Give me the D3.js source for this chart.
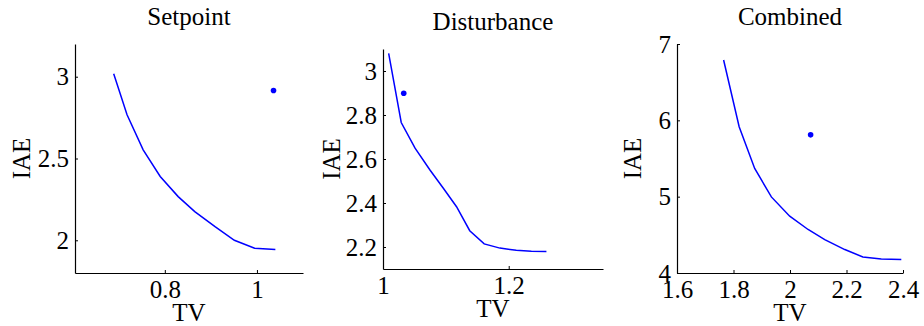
<!DOCTYPE html>
<html>
<head>
<meta charset="utf-8">
<script src="https://cdn.jsdelivr.net/npm/d3@7"></script>
<style>
body { margin: 0; background: #fff; }
text { font-family: "Liberation Serif", "Times New Roman", serif; fill: #000; }
</style>
</head>
<body>
<script>
// Setpoint panel
var setpointTV  = [0.689, 0.718, 0.753, 0.790, 0.829, 0.865, 0.909, 0.951, 0.995, 1.040];
var setpointIAE = [3.018, 2.767, 2.553, 2.390, 2.267, 2.175, 2.083, 2.000, 1.951, 1.943];
var setpointDot = [1.036, 2.916];
var setpointXTicks = [0.8, 1];
var setpointYTicks = [2, 2.5, 3];

// Disturbance panel
var disturbTV  = [1.009, 1.029, 1.051, 1.075, 1.096, 1.117, 1.138, 1.161, 1.186, 1.212, 1.236, 1.260];
var disturbIAE = [3.080, 2.766, 2.649, 2.549, 2.467, 2.383, 2.274, 2.214, 2.195, 2.185, 2.181, 2.180];
var disturbDot = [1.033, 2.899];
var disturbXTicks = [1, 1.2];
var disturbYTicks = [2.2, 2.4, 2.6, 2.8, 3];

// Combined panel
var combinedTV  = [1.765, 1.820, 1.875, 1.934, 1.999, 2.064, 2.123, 2.194, 2.258, 2.323, 2.394];
var combinedIAE = [6.79, 5.916, 5.37, 4.997, 4.744, 4.57, 4.438, 4.307, 4.21, 4.184, 4.176];
var combinedDot = [2.073, 5.81];
var combinedXTicks = [1.6, 1.8, 2, 2.2, 2.4];
var combinedYTicks = [4, 5, 6, 7];

var svg = d3.select('body').append('svg')
  .attr('width', 924)
  .attr('height', 326);

var fmt = function(d) { return String(+d.toFixed(2)); };

function panel(opt) {
  var x = d3.scaleLinear().domain(opt.xdom).range([opt.left, opt.right]);
  var y = d3.scaleLinear().domain(opt.ydom).range([opt.bottom, opt.top]);

  var gx = svg.append('g')
    .attr('transform', 'translate(0,' + opt.bottom + ')')
    .call(d3.axisBottom(x).tickValues(opt.xticks).tickFormat(fmt)
      .tickSizeInner(-3).tickSizeOuter(0).tickPadding(7));
  var gy = svg.append('g')
    .attr('transform', 'translate(' + opt.left + ',0)')
    .call(d3.axisLeft(y).tickValues(opt.yticks).tickFormat(fmt)
      .tickSizeInner(-3).tickSizeOuter(0).tickPadding(6));

  [gx, gy].forEach(function(g) {
    g.select('.domain').attr('stroke', '#000').attr('stroke-width', 1.2);
    g.selectAll('.tick line').attr('stroke', '#000');
    g.selectAll('.tick text')
      .style('font-family', '"Liberation Serif", serif')
      .style('font-size', '25px')
      .attr('fill', '#000');
  });

  var pts = opt.tv.map(function(d, i) { return [d, opt.iae[i]]; });
  svg.append('path')
    .datum(pts)
    .attr('fill', 'none')
    .attr('stroke', '#0000ff')
    .attr('stroke-width', 1.5)
    .attr('d', d3.line().x(function(d) { return x(d[0]); }).y(function(d) { return y(d[1]); }));

  svg.append('circle')
    .attr('cx', x(opt.dot[0]))
    .attr('cy', y(opt.dot[1]))
    .attr('r', 2.8)
    .attr('fill', '#0000ff');

  svg.append('text')
    .attr('x', (opt.left + opt.right) / 2)
    .attr('y', opt.top - 19)
    .attr('text-anchor', 'middle')
    .style('font-size', '25px')
    .text(opt.title);

  svg.append('text')
    .attr('x', (opt.left + opt.right) / 2)
    .attr('y', opt.bottom + 48)
    .attr('text-anchor', 'middle')
    .style('font-size', '25px')
    .text('TV');

  svg.append('text')
    .attr('transform', 'translate(' + (opt.left - opt.ylabOff) + ',' + ((opt.top + opt.bottom) / 2) + ') rotate(-90)')
    .attr('text-anchor', 'middle')
    .style('font-size', '25px')
    .text('IAE');
}

panel({ title: 'Setpoint', tv: setpointTV, iae: setpointIAE, dot: setpointDot,
  xdom: [0.605, 1.1], ydom: [1.8, 3.2], xticks: setpointXTicks, yticks: setpointYTicks,
  left: 75, right: 303, top: 44, bottom: 273, ylabOff: 45 });

panel({ title: 'Disturbance', tv: disturbTV, iae: disturbIAE, dot: disturbDot,
  xdom: [1, 1.35], ydom: [2.1, 3.1], xticks: disturbXTicks, yticks: disturbYTicks,
  left: 383, right: 603, top: 49, bottom: 269, ylabOff: 43 });

panel({ title: 'Combined', tv: combinedTV, iae: combinedIAE, dot: combinedDot,
  xdom: [1.6, 2.4], ydom: [4, 7], xticks: combinedXTicks, yticks: combinedYTicks,
  left: 677, right: 903, top: 44, bottom: 273, ylabOff: 36 });
</script>
</body>
</html>
